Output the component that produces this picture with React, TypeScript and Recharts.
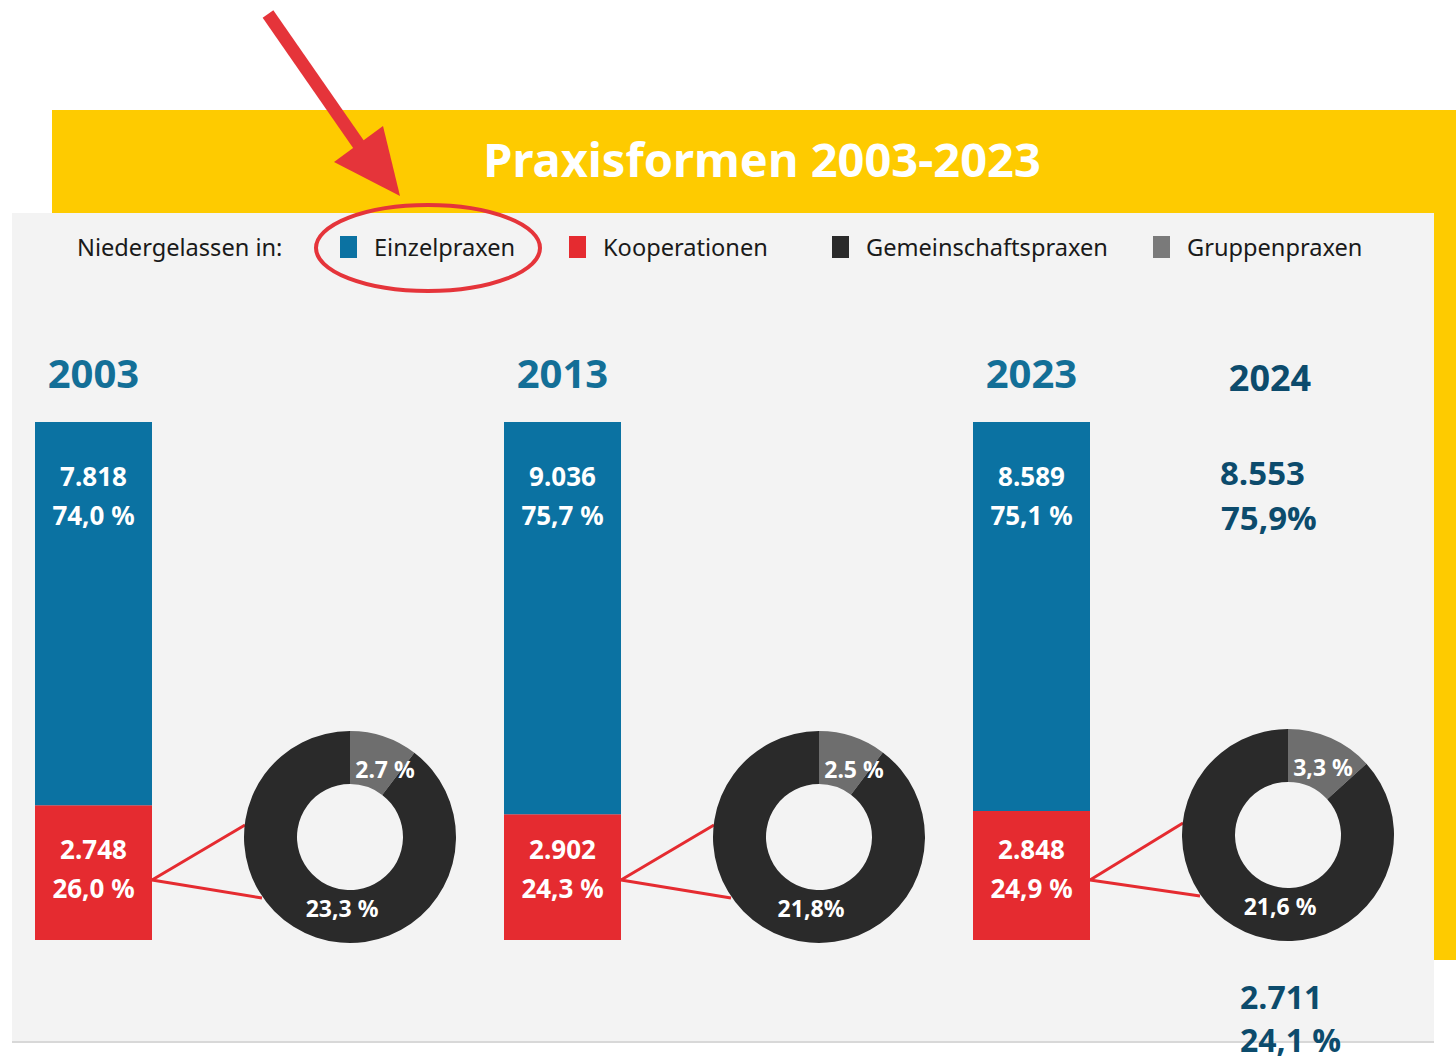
import React from "react";
import { BarChart, Bar, XAxis, YAxis, LabelList, PieChart, Pie, Cell } from "recharts";

const years = ["2003", "2013", "2023"];
const einzelCount = [7818, 9036, 8589];
const einzelPct = [74.0, 75.7, 75.1];
const koopCount = [2748, 2902, 2848];
const koopPct = [26.0, 24.3, 24.9];
const gemeinschaftPct = [23.3, 21.8, 21.6];
const gruppenPct = [2.7, 2.5, 3.3];
const gemeinschaftLabels = ["23,3 %", "21,8%", "21,6 %"];
const gruppenLabels = ["2.7 %", "2.5 %", "3,3 %"];

const legendItems = [
  { name: "Einzelpraxen", color: "#0b72a2" },
  { name: "Kooperationen", color: "#e52b30" },
  { name: "Gemeinschaftspraxen", color: "#2a2a2a" },
  { name: "Gruppenpraxen", color: "#7a7a7a" },
];

const extraYear = "2024";
const extraEinzel = ["8.553", "75,9%"];
const extraKoop = ["2.711", "24,1 %"];

const BLUE = "#0b72a2";
const RED = "#e52b30";
const DARK = "#2a2a2a";
const GRAY = "#6e6e6e";
const YELLOW = "#fecb00";
const FONT = "'Noto Sans', 'Open Sans', sans-serif";
const FONT2 = "'Open Sans', sans-serif";

const barLeft = [35, 504, 973];
const barTop = 422;
const barW = 117;
const barH = 518;
const donutCx = [350, 819, 1288];
const donutCy = [837, 837, 835];
const R_OUT = 106;
const R_IN = 53;
const legendX = [340, 569, 832, 1153];

const fmtCount = (n: number) => n.toLocaleString("de-DE");
const fmtPct = (p: number) => `${p.toFixed(1).replace(".", ",")} %`;

function YearBar({ i }: { i: number }) {
  const row = [{ year: years[i], koop: koopPct[i], einzel: einzelPct[i] }];
  const twoLines = (a: string, b: string, x: number, y1: number) => (
    <g>
      <text x={x} y={y1} textAnchor="middle" dominantBaseline="central" fill="#fff" fontSize={26} fontWeight={700} fontFamily={FONT}>
        {a}
      </text>
      <text x={x} y={y1 + 39} textAnchor="middle" dominantBaseline="central" fill="#fff" fontSize={26} fontWeight={700} fontFamily={FONT}>
        {b}
      </text>
    </g>
  );
  return (
    <BarChart width={barW} height={barH} data={row} margin={{ top: 0, right: 0, bottom: 0, left: 0 }} barCategoryGap={0}>
      <XAxis dataKey="year" hide />
      <YAxis hide domain={[0, 100]} />
      <Bar dataKey="koop" stackId="a" fill={RED} isAnimationActive={false}>
        <LabelList
          dataKey="koop"
          content={(p: any) =>
            twoLines(fmtCount(koopCount[i]), fmtPct(koopPct[i]), p.x + p.width / 2, p.y + p.height - 91)
          }
        />
      </Bar>
      <Bar dataKey="einzel" stackId="a" fill={BLUE} isAnimationActive={false}>
        <LabelList
          dataKey="einzel"
          content={(p: any) =>
            twoLines(fmtCount(einzelCount[i]), fmtPct(einzelPct[i]), p.x + p.width / 2, p.y + 54)
          }
        />
      </Bar>
    </BarChart>
  );
}

function YearDonut({ i }: { i: number }) {
  const data = [
    { name: "Gruppenpraxen", value: gruppenPct[i], label: gruppenLabels[i] },
    { name: "Gemeinschaftspraxen", value: gemeinschaftPct[i], label: gemeinschaftLabels[i] },
  ];
  const size = 240;
  const offsets = [
    { dx: 35, dy: -68 },
    { dx: -8, dy: 71 },
  ];
  return (
    <PieChart width={size} height={size} margin={{ top: 0, right: 0, bottom: 0, left: 0 }}>
      <Pie
        data={data}
        dataKey="value"
        cx="50%"
        cy="50%"
        innerRadius={R_IN}
        outerRadius={R_OUT}
        startAngle={90}
        endAngle={-270}
        stroke="none"
        isAnimationActive={false}
        labelLine={false}
        label={(p: any) => (
          <text
            x={p.cx + offsets[p.index].dx}
            y={p.cy + offsets[p.index].dy}
            textAnchor="middle"
            dominantBaseline="central"
            fill="#fff"
            fontSize={23}
            fontWeight={700}
            fontFamily={FONT}
          >
            {data[p.index].label}
          </text>
        )}
      >
        <Cell fill={GRAY} />
        <Cell fill={DARK} />
      </Pie>
    </PieChart>
  );
}

export default function App() {
  return (
    <div
      style={{
        position: "absolute",
        left: 0,
        top: 0,
        width: 1456,
        height: 1060,
        background: "#fff",
        overflow: "hidden",
        fontFamily: FONT,
      }}
    >
      <svg width={1456} height={1060} style={{ position: "absolute", left: 0, top: 0 }}>
        <rect x={52} y={110} width={1404} height={850} fill={YELLOW} />
        <rect x={12} y={213} width={1422} height={829} fill="#f3f3f3" />
        <line x1={12} y1={1042} x2={1434} y2={1042} stroke="#d8d8d8" strokeWidth={2} />
        <text x={762} y={177} textAnchor="middle" fill="#fff" fontSize={47} fontWeight={700} fontFamily={FONT}>
          Praxisformen 2003-2023
        </text>
        {years.map((y, i) => {
          const sx = barLeft[i] + barW;
          const sy = barTop + barH - 60;
          return (
            <g key={y}>
              <line x1={sx} y1={sy} x2={donutCx[i] - 105} y2={donutCy[i] - 12} stroke={RED} strokeWidth={3} />
              <line x1={sx} y1={sy} x2={donutCx[i] - 88} y2={donutCy[i] + 61} stroke={RED} strokeWidth={3} />
              <text
                x={barLeft[i] + barW / 2}
                y={372}
                textAnchor="middle"
                dominantBaseline="central"
                fill="#136f97"
                fontSize={40}
                fontWeight={700}
                fontFamily={FONT}
              >
                {y}
              </text>
            </g>
          );
        })}
        <text x={77} y={247} dominantBaseline="central" fill="#1a1a1a" fontSize={23.6} fontFamily={FONT}>
          Niedergelassen in:
        </text>
        {legendItems.map((it, i) => (
          <g key={it.name}>
            <rect x={legendX[i]} y={236} width={17} height={22} fill={it.color} />
            <text x={legendX[i] + 34} y={247} dominantBaseline="central" fill="#1a1a1a" fontSize={23.6} fontFamily={FONT}>
              {it.name}
            </text>
          </g>
        ))}
        <text x={1270} y={377} textAnchor="middle" dominantBaseline="central" fill="#0c4b6c" fontSize={36} fontWeight={700} fontFamily={FONT2}>
          {extraYear}
        </text>
        <text x={1220} y={472} dominantBaseline="central" fill="#0c4b6c" fontSize={33} fontWeight={700} fontFamily={FONT2}>
          {extraEinzel[0]}
        </text>
        <text x={1221} y={517} dominantBaseline="central" fill="#0c4b6c" fontSize={33} fontWeight={700} fontFamily={FONT2}>
          {extraEinzel[1]}
        </text>
        <text x={1240} y={996} dominantBaseline="central" fill="#0c4b6c" fontSize={32} fontWeight={700} fontFamily={FONT2}>
          {extraKoop[0]}
        </text>
        <text x={1240} y={1039} dominantBaseline="central" fill="#0c4b6c" fontSize={32} fontWeight={700} fontFamily={FONT2}>
          {extraKoop[1]}
        </text>
      </svg>

      {years.map((y, i) => (
        <div key={"bar" + y} style={{ position: "absolute", left: barLeft[i], top: barTop }}>
          <YearBar i={i} />
        </div>
      ))}
      {years.map((y, i) => (
        <div key={"donut" + y} style={{ position: "absolute", left: donutCx[i] - 120, top: donutCy[i] - 120 }}>
          <YearDonut i={i} />
        </div>
      ))}

      <svg width={1456} height={1060} style={{ position: "absolute", left: 0, top: 0, pointerEvents: "none" }}>
        <line x1={268} y1={14} x2={368} y2={158} stroke="#e5343a" strokeWidth={13} />
        <polygon points="334,162 383,126 400,196" fill="#e5343a" />
        <ellipse cx={428} cy={248} rx={112} ry={43} fill="none" stroke="#e5343a" strokeWidth={4} />
      </svg>
    </div>
  );
}
